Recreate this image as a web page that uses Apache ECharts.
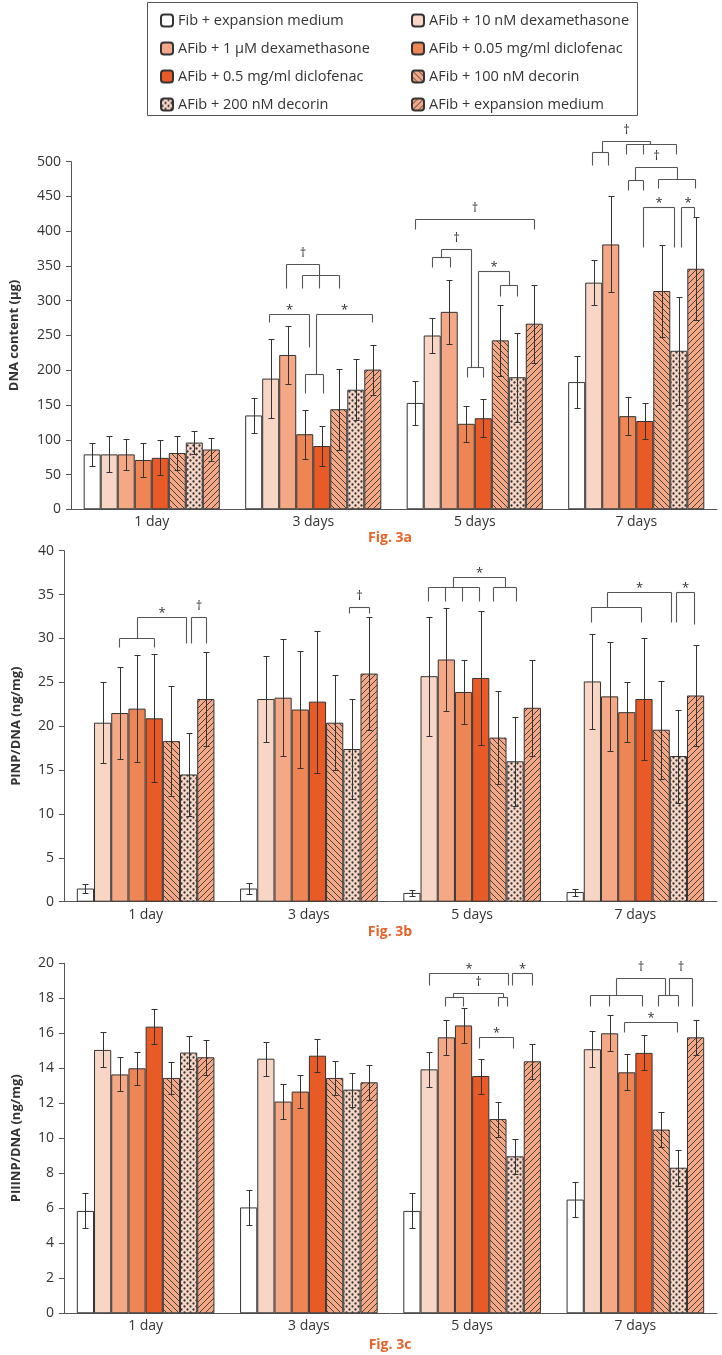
<!DOCTYPE html>
<html><head><meta charset="utf-8">
<script src="https://cdn.jsdelivr.net/npm/echarts@6/dist/echarts.min.js"></script>
<style>html,body{margin:0;padding:0;background:#fff}#c{width:722px;height:1355px}</style>
</head><body><div id="c"></div>
<script>
const categories = ['1 day', '3 days', '5 days', '7 days'];
const groups = ['Fib + expansion medium', 'AFib + 10 nM dexamethasone', 'AFib + 1 µM dexamethasone', 'AFib + 0.05 mg/ml diclofenac', 'AFib + 0.5 mg/ml diclofenac', 'AFib + 100 nM decorin', 'AFib + 200 nM decorin', 'AFib + expansion medium'];

// Fig. 3a DNA content (µg): rows = groups, columns = days
const dnaMean = [[79, 135, 153, 183], [79, 188, 250, 326], [79, 222, 284, 381], [71, 108, 123, 134], [74, 91, 131, 127], [81, 144, 243, 314], [96, 172, 190, 228], [86, 201, 267, 346]];
const dnaErr = [[17, 25, 32, 38], [26, 57, 25, 32], [22, 42, 46, 69], [24, 35, 26, 27], [25, 29, 27, 26], [25, 58, 51, 66], [17, 44, 64, 78], [16, 36, 56, 74]];
// Fig. 3b PINP/DNA (ng/mg)
const pinpMean = [[1.5, 1.5, 1.0, 1.1], [20.4, 23.1, 25.7, 25.1], [21.5, 23.25, 27.6, 23.4], [22.0, 21.9, 23.9, 21.6], [20.9, 22.8, 25.5, 23.1], [18.3, 20.4, 18.7, 19.6], [14.5, 17.4, 16.0, 16.6], [23.1, 26.0, 22.1, 23.5]];
const pinpErr = [[0.55, 0.6, 0.35, 0.4], [4.6, 4.9, 6.8, 5.4], [5.2, 6.7, 5.9, 6.2], [6.1, 6.7, 3.7, 3.4], [7.3, 8.1, 7.6, 7.0], [6.3, 5.4, 5.3, 5.6], [4.7, 5.7, 5.1, 5.3], [5.4, 6.4, 5.5, 5.7]];
// Fig. 3c PIIINP/DNA (ng/mg)
const piiinpMean = [[5.85, 6.05, 5.85, 6.5], [15.05, 14.55, 13.94, 15.09], [13.65, 12.1, 15.77, 16.0], [14.0, 12.67, 16.45, 13.77], [16.38, 14.72, 13.56, 14.88], [13.45, 13.45, 11.1, 10.5], [14.9, 12.78, 8.97, 8.32], [14.63, 13.2, 14.4, 15.77]];
const piiinpErr = [[1.0, 1.0, 1.0, 1.0], [1.0, 0.98, 1.0, 1.03], [0.97, 1.0, 1.0, 1.03], [0.93, 0.96, 1.0, 1.02], [0.99, 0.95, 1.0, 1.0], [0.92, 0.98, 1.0, 1.0], [0.94, 0.97, 1.0, 1.02], [1.0, 1.0, 1.0, 1.0]];

const axisNames = ['DNA content (µg)', 'PINP/DNA (ng/mg)', 'PIIINP/DNA (ng/mg)'];
const figLabels = ['Fig. 3a', 'Fig. 3b', 'Fig. 3c'];
const yMax = [500, 40, 20];
const yStep = [50, 5, 2];

// Significance brackets: c = day index, p = bar slot (0..7), values in axis units
const bracketsA = [
  {c:1, y:281, legs:[[0.91,269],[3.26,234]], t:'*'},
  {c:1, y:281, legs:[[3.65,194],[6.95,269]], t:'*'},
  {c:1, y:194, legs:[[2.99,168],[4.06,168]]},
  {c:1, y:353, legs:[[1.88,319],[3.86,337]], t:'†'},
  {c:1, y:337, legs:[[2.85,319],[3.86,319],[5.03,319]]},
  {c:2, y:417, legs:[[0,403],[6.97,403]], t:'†'},
  {c:2, y:374, legs:[[1.53,363],[3.26,205]], t:'†'},
  {c:2, y:363, legs:[[0.99,349],[2.02,349]]},
  {c:2, y:205, legs:[[3.07,191],[4.0,191]]},
  {c:2, y:343, legs:[[3.67,205],[5.5,322]], t:'*'},
  {c:2, y:322, legs:[[4.99,307],[6.0,307]]},
  {c:3, y:530, legs:[[1.51,514],[4.31,525]], t:'†'},
  {c:3, y:514, legs:[[0.89,495],[1.83,495]]},
  {c:3, y:525, legs:[[2.89,511],[3.88,511],[5.86,511]]},
  {c:3, y:492, legs:[[3.44,473],[5.9,475]], t:'†'},
  {c:3, y:473, legs:[[2.99,460],[3.92,460]]},
  {c:3, y:475, legs:[[4.8,462],[6.95,462]]},
  {c:3, y:435, legs:[[3.92,378],[5.71,378]], t:'*'},
  {c:3, y:435, legs:[[6.14,378],[6.91,420]], t:'*'}
];
const bracketsB = [
  {c:0, y:30.0, legs:[[1.96,29.06],[3.98,29.06]]},
  {c:0, y:32.48, legs:[[2.99,30.0],[5.86,29.44]], t:'*'},
  {c:0, y:32.48, legs:[[6.14,29.44],[7.0,29.44]], t:'†'},
  {c:1, y:33.6, legs:[[5.86,32.86],[6.97,32.86]], t:'†'},
  {c:2, y:35.82, legs:[[0.91,34.3],[1.92,34.3],[2.89,34.3],[3.9,34.3]]},
  {c:2, y:35.82, legs:[[4.74,34.3],[6.06,34.3]]},
  {c:2, y:37.04, legs:[[2.41,35.82],[5.44,35.82]], t:'*'},
  {c:3, y:33.62, legs:[[0.93,31.9],[3.84,31.9]]},
  {c:3, y:35.25, legs:[[1.86,33.62],[5.59,31.9]], t:'*'},
  {c:3, y:35.25, legs:[[5.88,31.9],[6.91,31.7]], t:'*'}
];
const bracketsC = [
  {c:2, y:19.43, legs:[[0.99,18.76],[5.59,18.76]], t:'*'},
  {c:2, y:19.43, legs:[[5.84,18.76],[7.0,18.76]], t:'*'},
  {c:2, y:18.32, legs:[[2.41,18.06],[5.28,18.06]], t:'†'},
  {c:2, y:18.06, legs:[[1.9,17.56],[2.95,17.56]]},
  {c:2, y:18.06, legs:[[5.0,17.56],[5.55,17.56]]},
  {c:2, y:15.77, legs:[[3.9,15.14],[5.9,15.14]], t:'*'},
  {c:3, y:18.19, legs:[[0.89,17.56],[1.96,17.56],[3.86,17.56]]},
  {c:3, y:19.18, legs:[[2.37,18.19],[5.22,18.19]], t:'†'},
  {c:3, y:18.19, legs:[[4.8,17.56],[5.96,17.56]]},
  {c:3, y:19.18, legs:[[5.48,18.19],[6.78,17.56]], t:'†'},
  {c:3, y:16.67, legs:[[2.83,16.1],[5.9,16.1]], t:'*'}
];

const FONT = '"Open Sans", "Noto Sans", sans-serif';
const GAP = 0.157;
const INK = '#333333';

function makePattern(bg, kind) {
  const s = 6;
  const cv = document.createElement('canvas');
  cv.width = s; cv.height = s;
  const ctx = cv.getContext('2d');
  ctx.fillStyle = bg; ctx.fillRect(0, 0, s, s);
  ctx.strokeStyle = INK; ctx.fillStyle = INK; ctx.lineWidth = 0.9;
  if (kind === 'back') {
    for (let k = -1; k <= 1; k++) { ctx.beginPath(); ctx.moveTo(k * s, 0); ctx.lineTo(k * s + s, s); ctx.stroke(); }
  } else if (kind === 'fwd') {
    for (let k = -1; k <= 1; k++) { ctx.beginPath(); ctx.moveTo(k * s, s); ctx.lineTo(k * s + s, 0); ctx.stroke(); }
  } else {
    [[1.5, 1.5], [4.5, 4.5]].forEach(([x, y]) => { ctx.beginPath(); ctx.arc(x, y, 1.15, 0, Math.PI * 2); ctx.fill(); });
  }
  return { image: cv, repeat: 'repeat' };
}

const fills = ['#FFFFFF', '#F8D6C6', '#F4A886', '#EE8554', '#E85B26',
  makePattern('#F4A886', 'back'), makePattern('#F8D6C6', 'dots'), makePattern('#F4A886', 'fwd')];

const gridTops = [161.7, 550.7, 963.3];
const gridHeights = [347.6, 351, 350];
const nameGaps = [50, 41, 41];

function slotX(api, c, p) {
  const base = api.coord([c, 0]);
  const band = api.size([1, 0])[0];
  const bw = band * (1 - GAP) / groups.length;
  return base[0] + (p - (groups.length - 1) / 2) * bw;
}
const px = v => Math.round(v) + 0.5;

function errRender(params, api) {
  const c = api.value(0), i = api.value(1), m = api.value(2), e = api.value(3);
  const x = px(slotX(api, c, i));
  const yT = px(api.coord([c, m + e])[1]);
  const yB = px(api.coord([c, m - e])[1]);
  const h = 3;
  const st = { stroke: INK, lineWidth: 1 };
  return { type: 'group', children: [
    { type: 'line', shape: { x1: x, y1: yT, x2: x, y2: yB }, style: st },
    { type: 'line', shape: { x1: x - h, y1: yT, x2: x + h, y2: yT }, style: st },
    { type: 'line', shape: { x1: x - h, y1: yB, x2: x + h, y2: yB }, style: st }
  ]};
}

function bracketRender(list) {
  return function (params, api) {
    const b = list[api.value(2)];
    const yTop = px(api.coord([b.c, b.y])[1]);
    const xs = b.legs.map(l => px(slotX(api, b.c, l[0])));
    const st = { stroke: '#555', lineWidth: 1.1 };
    const ch = [{ type: 'line', shape: { x1: Math.min(...xs), y1: yTop, x2: Math.max(...xs), y2: yTop }, style: st }];
    b.legs.forEach((l, k) => {
      ch.push({ type: 'line', shape: { x1: xs[k], y1: yTop, x2: xs[k], y2: px(api.coord([b.c, l[1]])[1]) }, style: st });
    });
    if (b.t) {
      const cx = (Math.min(...xs) + Math.max(...xs)) / 2;
      ch.push({ type: 'text', style: { text: b.t, x: cx, y: yTop - (b.t === '*' ? 4 : 11), textAlign: 'center', textVerticalAlign: 'middle', font: '13px ' + FONT, fill: '#333' } });
    }
    return { type: 'group', children: ch };
  };
}

const panels = [[dnaMean, dnaErr, bracketsA], [pinpMean, pinpErr, bracketsB], [piiinpMean, piiinpErr, bracketsC]];
const grid = [], xAxis = [], yAxis = [], series = [], graphic = [];
panels.forEach(([means, errs, br], pi) => {
  grid.push({ left: 64, right: 5, top: gridTops[pi], height: gridHeights[pi] });
  xAxis.push({ type: 'category', gridIndex: pi, data: categories,
    axisLine: { lineStyle: { color: '#555', width: 1 } },
    axisTick: { length: 5, lineStyle: { color: '#555' } },
    axisLabel: { fontSize: 14, color: '#333', margin: 6, fontFamily: FONT } });
  yAxis.push({ type: 'value', gridIndex: pi, min: 0, max: yMax[pi], interval: yStep[pi],
    name: axisNames[pi], nameLocation: 'middle', nameGap: nameGaps[pi],
    nameTextStyle: { fontWeight: 'bold', fontSize: 13, color: '#333', fontFamily: FONT },
    axisLine: { show: true, lineStyle: { color: '#555', width: 1 } },
    axisTick: { show: true, length: 5, lineStyle: { color: '#555' } },
    axisLabel: { fontSize: 14, color: '#333', margin: 10, fontFamily: FONT },
    splitLine: { show: false } });
  groups.forEach((g, i) => series.push({ type: 'bar', name: g, xAxisIndex: pi, yAxisIndex: pi,
    data: means[i], barGap: '0%', barCategoryGap: (GAP * 100) + '%', silent: true,
    itemStyle: { color: fills[i], borderColor: INK, borderWidth: 1 } }));
  const errData = [];
  groups.forEach((g, i) => categories.forEach((c, j) => errData.push([j, i, means[i][j], errs[i][j]])));
  series.push({ type: 'custom', xAxisIndex: pi, yAxisIndex: pi, data: errData, encode: { x: 0, y: 2 },
    renderItem: errRender, clip: false, z: 5, silent: true });
  series.push({ type: 'custom', xAxisIndex: pi, yAxisIndex: pi, data: br.map((b, k) => [b.c, b.y, k]), encode: { x: 0, y: 1 },
    renderItem: bracketRender(br), clip: false, z: 6, silent: true });
});

const figY = [538, 932, 1345];
figLabels.forEach((t, i) => graphic.push({ type: 'text', x: 390, y: figY[i],
  style: { text: t, textAlign: 'center', textVerticalAlign: 'middle', font: 'bold 14px ' + FONT, fill: '#E8632B' } }));
graphic.push({ type: 'rect', shape: { x: 147.5, y: 2.5, width: 490, height: 113 }, style: { fill: 'none', stroke: '#555', lineWidth: 1 }, z: -1 });

const legendCommon = { orient: 'vertical', itemWidth: 12, itemHeight: 12, itemGap: 13, top: 8,
  textStyle: { fontSize: 14.5, color: '#333', fontFamily: FONT }, selectedMode: false };
const legend = [
  Object.assign({ left: 155, data: [groups[0], groups[2], groups[4], groups[6]] }, legendCommon),
  Object.assign({ left: 406, data: [groups[1], groups[3], groups[5], groups[7]] }, legendCommon)
];

const chart = echarts.init(document.getElementById('c'), null, { renderer: 'canvas' });
chart.setOption({ animation: false, backgroundColor: '#fff', grid, xAxis, yAxis, series, legend, graphic });
</script></body></html>
